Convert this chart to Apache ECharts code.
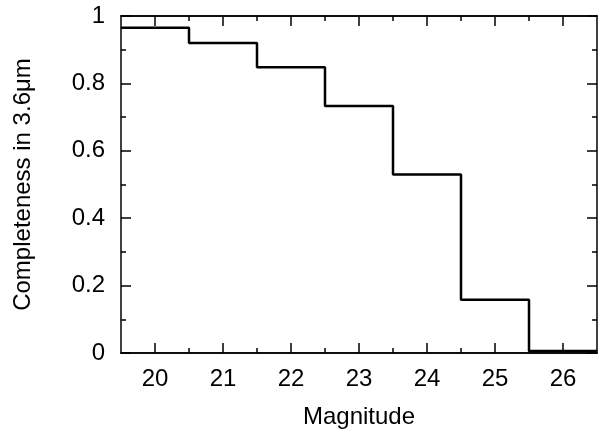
<!DOCTYPE html>
<html><head><meta charset="utf-8">
<script src="https://cdn.jsdelivr.net/npm/echarts@6/dist/echarts.min.js"></script>
<style>html,body{margin:0;padding:0;background:#fff}#c{width:598px;height:434px}</style>
</head><body><div id="c"></div>
<script>
const binEdges = [19.5, 20.5, 21.5, 22.5, 23.5, 24.5, 25.5, 26.5];
const completeness = [0.965, 0.92, 0.848, 0.733, 0.53, 0.158, 0.006];
const xTicks = [20, 21, 22, 23, 24, 25, 26];
const xMinorTicks = [20.5, 21.5, 22.5, 23.5, 24.5, 25.5];
const yTicks = [0, 0.2, 0.4, 0.6, 0.8, 1];
const xTitle = 'Magnitude';
const yTitle = 'Completeness in 3.6\u03bcm';

const data = binEdges.map((e, i) => [e, completeness[Math.min(i, completeness.length - 1)]]);
const font = 'Liberation Sans, Arial, sans-serif';
const FS = 24;
const axLine = {show: true, lineStyle: {color: '#000', width: 1.5}};
const tickMaj = {show: true, inside: true, length: 10, lineStyle: {color: '#000', width: 1.5}};
const minor = {show: true, splitNumber: 2, length: 5, lineStyle: {color: '#000', width: 1.5}};
const xBase = {type: 'value', min: 19.5, max: 26.5, splitLine: {show: false}, axisLine: axLine};
const chart = echarts.init(document.getElementById('c'), null, {renderer: 'canvas'});
chart.setOption({
  animation: false,
  grid: {left: 121, right: 1, top: 16, bottom: 78, containLabel: false},
  xAxis: [
    Object.assign({}, xBase, {
      position: 'bottom',
      axisTick: Object.assign({}, tickMaj, {customValues: xTicks}),
      axisLabel: {color: '#000', fontSize: FS, fontFamily: font, margin: 14, customValues: xTicks},
      name: xTitle, nameLocation: 'middle', nameGap: 52,
      nameTextStyle: {color: '#000', fontSize: FS, fontFamily: font}
    }),
    Object.assign({}, xBase, {
      position: 'bottom',
      axisTick: {show: true, inside: true, length: 5, lineStyle: {color: '#000', width: 1.5}, customValues: xMinorTicks},
      axisLabel: {show: false}
    }),
    Object.assign({}, xBase, {
      position: 'top',
      axisTick: Object.assign({}, tickMaj, {customValues: xTicks}),
      axisLabel: {show: false}
    }),
    Object.assign({}, xBase, {
      position: 'top',
      axisTick: {show: true, inside: true, length: 5, lineStyle: {color: '#000', width: 1.5}, customValues: xMinorTicks},
      axisLabel: {show: false}
    })
  ],
  yAxis: [{
    type: 'value', min: 0, max: 1, interval: 0.2, position: 'left',
    axisLine: axLine, axisTick: tickMaj, minorTick: minor, splitLine: {show: false},
    axisLabel: {color: '#000', fontSize: FS, fontFamily: font, margin: 16,
      customValues: yTicks, formatter: v => String(+(+v).toFixed(1))},
    name: yTitle, nameLocation: 'middle', nameGap: 86,
    nameTextStyle: {color: '#000', fontSize: FS, fontFamily: font}
  }, {
    type: 'value', min: 0, max: 1, interval: 0.2, position: 'right',
    axisLine: axLine, axisTick: tickMaj, minorTick: minor, splitLine: {show: false},
    axisLabel: {show: false}
  }],
  series: [{
    type: 'line', step: 'end', data: data, symbol: 'none',
    lineStyle: {color: '#000', width: 2.5}, clip: false
  }]
});
</script></body></html>
